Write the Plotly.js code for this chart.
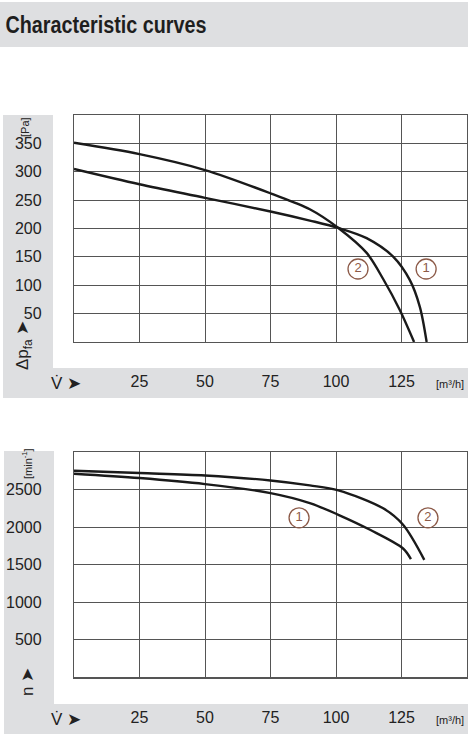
<!DOCTYPE html>
<html><head><meta charset="utf-8">
<script src="https://cdn.plot.ly/plotly-3.0.1.min.js"></script>
<style>html,body{margin:0;padding:0;background:#fff}#c{width:476px;height:743px}</style>
</head><body><div id="c"></div>
<script>
// ---- data ----
const pressV1 = [0, 25, 50, 75, 90, 100.9, 111.7, 121.9, 128.2, 132, 134.6];
const pressP1 = [305, 278, 254, 230, 214, 201, 183, 150, 109, 62, 0];
const pressV2 = [0, 25, 50, 75, 90, 100.9, 111.7, 118, 124.4, 129.8];
const pressP2 = [351, 331, 303, 262, 234, 201, 157, 111, 56, 0];

const speedV1 = [0, 25, 50, 75, 90, 100.9, 113, 125.6, 128.6];
const speedN1 = [2711, 2653, 2573, 2453, 2320, 2164, 1964, 1715, 1573];
const speedV2 = [0, 25, 50, 75, 90, 100.9, 118, 125.6, 133.7];
const speedN2 = [2751, 2720, 2688, 2621, 2555, 2490, 2250, 2031, 1564];

const xTicks = [25, 50, 75, 100, 125];
const pTicks = [50, 100, 150, 200, 250, 300, 350];
const nTicks = [500, 1000, 1500, 2000, 2500];

const curveLabels = ['1', '2'];
const pLabelV = [134.4, 108.4], pLabelP = [128.6, 128.6];
const nLabelV = [85.9, 135.1], nLabelN = [2124, 2124];

// ---- layout helpers ----
const W = 476, H = 743;
const px = x => x / W, py = y => 1 - y / H;
const FONT = "'Liberation Sans', Arial, sans-serif";
const GRAY = '#dedfe1';
const BROWN = '#8c5a48';

const curve = (x, y, xa, ya) => ({x, y, xaxis: xa, yaxis: ya, mode: 'lines', type: 'scatter',
  line: {color: '#1a1a1a', width: 2.4, shape: 'spline', smoothing: 0.9}, hoverinfo: 'skip', showlegend: false});
const marks = (x, y, xa, ya) => ({x, y, text: curveLabels, xaxis: xa, yaxis: ya, mode: 'markers+text', type: 'scatter',
  marker: {symbol: 'circle-open', size: 20, color: BROWN, line: {width: 1.3, color: BROWN}},
  textposition: 'middle center', textfont: {family: FONT, size: 13, color: BROWN}, showlegend: false, hoverinfo: 'skip', cliponaxis: false});

const data = [
  curve(pressV1, pressP1, 'x', 'y'),
  curve(pressV2, pressP2, 'x', 'y'),
  marks(pLabelV, pLabelP, 'x', 'y'),
  curve(speedV1, speedN1, 'x2', 'y2'),
  curve(speedV2, speedN2, 'x2', 'y2'),
  marks(nLabelV, nLabelN, 'x2', 'y2'),
];

const xax = (anchor) => ({
  domain: [px(74), px(467)], range: [0, 150], anchor: anchor,
  tickvals: xTicks, showgrid: true, gridcolor: '#555', gridwidth: 1,
  showline: true, mirror: true, linecolor: '#555', linewidth: 1.2,
  ticks: '', ticklabelstandoff: 25, zeroline: false,
  tickfont: {family: FONT, size: 16, color: '#222'}, fixedrange: true
});
const yax = (anchor, top, bot, rng, tv) => ({
  domain: [py(bot), py(top)], range: rng, anchor: anchor,
  tickvals: tv, showgrid: true, gridcolor: '#555', gridwidth: 1,
  showline: true, mirror: true, linecolor: '#555', linewidth: 1.2,
  ticks: '', ticklabelstandoff: 28, zeroline: false,
  tickfont: {family: FONT, size: 16, color: '#222'}, fixedrange: true
});

const rect = (x0, y0, x1, y1, c) => ({type: 'rect', xref: 'paper', yref: 'paper', x0: px(x0), x1: px(x1), y0: py(y1), y1: py(y0),
  fillcolor: c, line: {width: 0}, layer: 'below'});

const ann = (x, y, text, size, angle, opts) => Object.assign({xref: 'paper', yref: 'paper', x: px(x), y: py(y), text: text,
  showarrow: false, textangle: angle || 0, font: {family: FONT, size: size, color: '#222'}, xanchor: 'center', yanchor: 'middle'}, opts || {});

const layout = {
  width: W, height: H, margin: {l: 0, r: 0, t: 0, b: 0},
  paper_bgcolor: '#fff', plot_bgcolor: '#fff', showlegend: false,
  xaxis: xax('y'), yaxis: yax('x', 115, 342, [0, 400], pTicks),
  xaxis2: xax('y2'), yaxis2: yax('x2', 452, 677.3, [0, 3000], nTicks),
  shapes: [
    rect(0, 2, 468, 47, GRAY),
    rect(3, 115, 53, 368, GRAY), rect(3, 368, 468, 398, GRAY),
    rect(4, 451, 54, 704, GRAY), rect(4, 704, 468, 734, GRAY),
  ],
  annotations: [
    ann(105.5, 25, '<b>Characteristic curves</b>', 23, 0, {font: {family: FONT, size: 23, color: '#1e1e1e'}}),
    ann(25, 127, '[Pa]', 11, -90),
    ann(24, 346, 'Δp<sub>fa</sub> ➤', 17, -90),
    ann(66, 383, 'V̇ ➤', 17, 0),
    ann(450, 384, '[m³/h]', 11, 0),
    ann(27, 464, '[min<sup>-1</sup>]', 11, -90),
    ann(27, 682, 'n ➤', 17, -90),
    ann(66, 719, 'V̇ ➤', 17, 0),
    ann(450, 720, '[m³/h]', 11, 0),
  ]
};

Plotly.newPlot('c', data, layout, {staticPlot: true, displayModeBar: false}).then(() => {
  // condense the title to the reference's narrow bold face
  document.querySelectorAll('text.annotation-text').forEach(t => {
    if (t.textContent === 'Characteristic curves') {
      t.setAttribute('textLength', '201');
      t.setAttribute('lengthAdjust', 'spacingAndGlyphs');
    }
  });
});
</script></body></html>
